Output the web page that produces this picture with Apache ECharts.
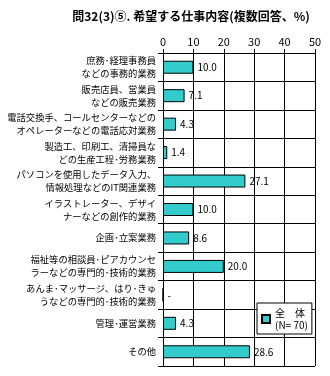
<!DOCTYPE html>
<html><head><meta charset="utf-8">
<script src="https://cdn.jsdelivr.net/npm/echarts@6/dist/echarts.min.js"></script>
<style>html,body{margin:0;padding:0;background:#fff;}#c{width:330px;height:376px;}</style>
</head><body><div id="c"></div>
<script>
const titleText = '問32(3)⑤. 希望する仕事内容(複数回答、%)';
const categories = [
  '庶務･経理事務員\nなどの事務的業務',
  '販売店員、営業員\nなどの販売業務',
  '電話交換手、コールセンターなどの\nオペレーターなどの電話応対業務',
  '製造工、印刷工、清掃員な\nどの生産工程･労務業務',
  'パソコンを使用したデータ入力、\n情報処理などのIT関連業務',
  'イラストレーター、デザイ\nナーなどの創作的業務',
  '企画･立案業務',
  '福祉等の相談員･ピアカウンセ\nラーなどの専門的･技術的業務',
  'あんま･マッサージ、はり･きゅ\nうなどの専門的･技術的業務',
  '管理･運営業務',
  'その他'
];
const values = [10.0, 7.1, 4.3, 1.4, 27.1, 10.0, 8.6, 20.0, 0, 4.3, 28.6];
const seriesName = '全　体\n(N= 70)';
const axisMin = 0, axisMax = 50, axisStep = 10;

const font = '"Noto Sans CJK JP", "Liberation Sans", sans-serif';
const chart = echarts.init(document.getElementById('c'), null, {renderer: 'canvas'});
chart.setOption({
  animation: false,
  textStyle: {fontFamily: font},
  title: {
    text: titleText, left: 186, textAlign: 'center', top: 5,
    textStyle: {fontSize: 12, fontWeight: 'bold', color: '#000', fontFamily: font}
  },
  grid: {left: 163, right: 15, top: 53, bottom: 10, containLabel: false, outerBoundsMode: 'none'},
  legend: {
    data: [seriesName], left: 257, top: 303, orient: 'vertical',
    itemWidth: 8, itemHeight: 8, itemGap: 0, padding: [4, 4, 3, 4],
    borderColor: '#000', borderWidth: 1, backgroundColor: '#fff',
    textStyle: {fontSize: 10, color: '#000', lineHeight: 12, fontFamily: font},
    icon: 'rect'
  },
  xAxis: {
    type: 'value', position: 'top', min: axisMin, max: axisMax, interval: axisStep,
    axisLine: {show: true, lineStyle: {color: '#000', width: 1}},
    axisTick: {show: true, length: 4, lineStyle: {color: '#000'}},
    axisLabel: {fontSize: 11, color: '#000', margin: 6, fontFamily: font},
    splitLine: {show: true, lineStyle: {color: '#000', width: 1}}
  },
  yAxis: {
    type: 'category', inverse: true, data: categories,
    axisLine: {show: true, lineStyle: {color: '#000', width: 1}},
    axisTick: {show: true, length: 5, lineStyle: {color: '#000'}},
    axisLabel: {fontSize: 9.3, color: '#000', lineHeight: 13, margin: 7, align: 'right', fontFamily: font},
    splitLine: {show: true, lineStyle: {color: '#000', width: 1}}
  },
  series: [{
    name: seriesName, type: 'bar', data: values, barWidth: 13,
    itemStyle: {color: '#33CCCC', borderColor: '#000', borderWidth: 1},
    label: {
      show: true, position: 'right', distance: 4, fontSize: 10, color: '#000', fontFamily: font,
      formatter: p => p.value === 0 ? '-' : p.value.toFixed(1)
    }
  }]
});
</script></body></html>
